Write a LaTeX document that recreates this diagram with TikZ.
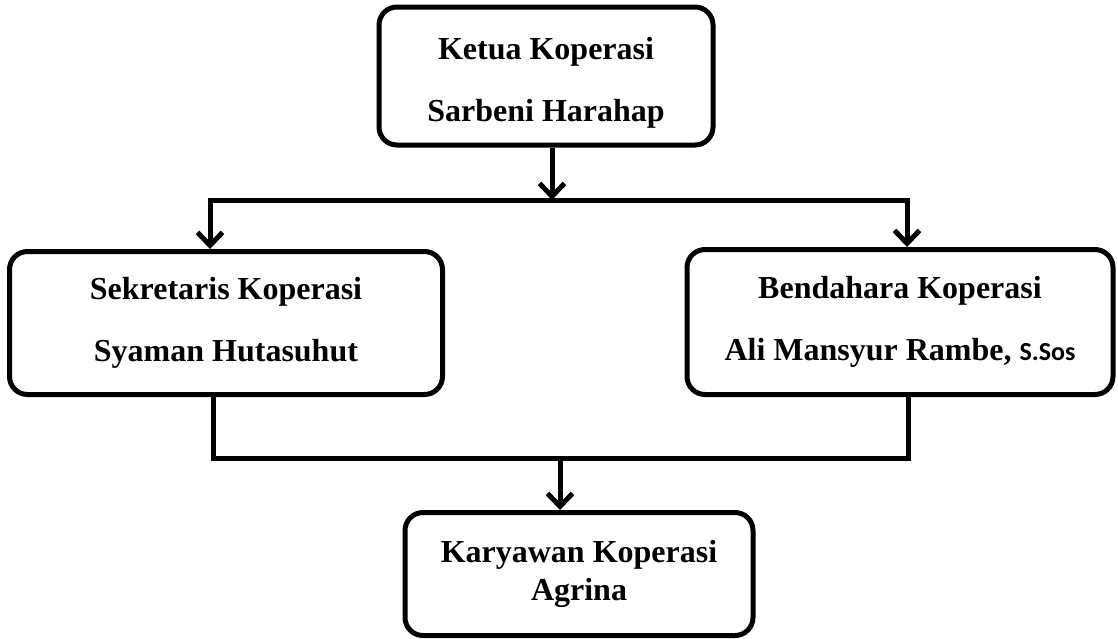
\documentclass[tikz,border=0pt]{standalone}
\usepackage{fontspec}
\setmainfont{Liberation Serif}
\newfontfamily\gelarfont{Carlito}
\usetikzlibrary{arrows.meta,positioning,calc}

\begin{document}
\begin{tikzpicture}[
    x=1pt, y=-1pt,
    kotak/.style={draw, rounded corners=18pt, line width=5pt, align=center, inner sep=0pt,
        font=\fontsize{32}{38}\selectfont\bfseries},
    garis/.style={line width=5pt},
    panah/.style={line width=5pt, -{Straight Barb[length=13pt,width=25pt]}}
]
    \useasboundingbox (0,0) rectangle (1118,638);

    % Ketua
    \node[kotak, minimum width=334pt, minimum height=138pt] (ketua) at (546,76)
        {\rule{0pt}{36pt}Ketua Koperasi\\[24pt]Sarbeni Harahap};

    % Sekretaris dan Bendahara
    \node[kotak, minimum width=433pt, minimum height=143pt] (sekretaris) at (226,323)
        {Sekretaris Koperasi\\[24pt]Syaman Hutasuhut};
    \node[kotak, minimum width=426pt, minimum height=145pt] (bendahara) at (900,322)
        {Bendahara Koperasi\\[24pt]Ali Mansyur Rambe, {\gelarfont\fontsize{26}{30}\selectfont S.Sos}};

    % Karyawan
    \node[kotak, minimum width=348pt, minimum height=123pt] (karyawan) at (579,574)
        {Karyawan Koperasi\\Agrina};

    % Garis cabang atas
    \coordinate (cabang) at (552,200);
    \coordinate (cabangkiri) at (210,200);
    \coordinate (cabangkanan) at (907,200);
    \draw[panah] (ketua.south -| cabang) -- (cabang);
    \draw[garis, line cap=rect] (cabangkiri) -- (cabangkanan);
    \draw[panah] (cabangkiri) -- (cabangkiri |- sekretaris.north);
    \draw[panah] (cabangkanan) -- (cabangkanan |- bendahara.north);

    % Garis gabung bawah
    \coordinate (gabung) at (560,458);
    \coordinate (gabungkiri) at (213,458);
    \coordinate (gabungkanan) at (908,458);
    \draw[garis, line join=miter] (sekretaris.south -| gabungkiri) -- (gabungkiri)
        -- (gabungkanan) -- (bendahara.south -| gabungkanan);
    \draw[panah] (gabung) -- (karyawan.north -| gabung);
\end{tikzpicture}
\end{document}
